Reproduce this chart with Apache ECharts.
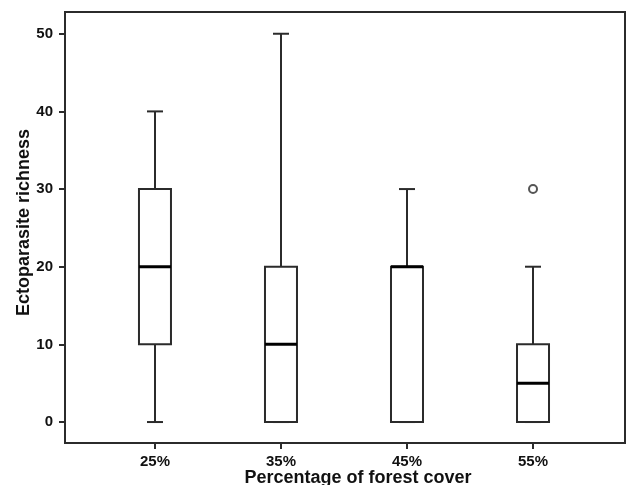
<!DOCTYPE html>
<html>
<head>
<meta charset="utf-8">
<script src="https://cdn.jsdelivr.net/npm/echarts@6/dist/echarts.min.js"></script>
<style>
  html, body { margin: 0; padding: 0; background: #fff; }
  #chart { width: 627px; height: 485px; }
</style>
</head>
<body>
<div id="chart"></div>
<script>
// forest cover groups (x positions 1..4)
const categories = ["25%", "35%", "45%", "55%"];
const positions = [1, 2, 3, 4];
// box stats: min, Q1, median, Q3, max
const mins = [0, 0, 0, 0];
const q1s = [10, 0, 0, 0];
const medians = [20, 10, 20, 5];
const q3s = [30, 20, 20, 10];
const maxs = [40, 50, 30, 20];
// outliers: [position, value]
const outliers = [[4, 30]];
const yTicks = [0, 10, 20, 30, 40, 50];

const font = "'Liberation Sans', Arial, sans-serif";
const ink = "#2b2b2b";

const boxData = positions.map((p, i) => [p, mins[i], q1s[i], medians[i], q3s[i], maxs[i]]);

function renderBox(params, api) {
  const x = api.value(0);
  const pMin = api.coord([x, api.value(1)]);
  const pQ1 = api.coord([x, api.value(2)]);
  const pMed = api.coord([x, api.value(3)]);
  const pQ3 = api.coord([x, api.value(4)]);
  const pMax = api.coord([x, api.value(5)]);
  const half = 16, cap = 8;
  const thin = { stroke: ink, lineWidth: 2 };
  return {
    type: "group",
    children: [
      { type: "line", shape: { x1: pQ1[0], y1: pQ1[1], x2: pMin[0], y2: pMin[1] }, style: thin },
      { type: "line", shape: { x1: pQ3[0], y1: pQ3[1], x2: pMax[0], y2: pMax[1] }, style: thin },
      { type: "line", shape: { x1: pMin[0] - cap, y1: pMin[1], x2: pMin[0] + cap, y2: pMin[1] }, style: thin },
      { type: "line", shape: { x1: pMax[0] - cap, y1: pMax[1], x2: pMax[0] + cap, y2: pMax[1] }, style: thin },
      { type: "rect", shape: { x: pQ3[0] - half, y: pQ3[1], width: half * 2, height: pQ1[1] - pQ3[1] },
        style: { fill: "#fff", stroke: ink, lineWidth: 2 } },
      { type: "line", shape: { x1: pMed[0] - half, y1: pMed[1], x2: pMed[0] + half, y2: pMed[1] },
        style: { stroke: "#000", lineWidth: 3 } }
    ]
  };
}

const chart = echarts.init(document.getElementById("chart"), null, { renderer: "canvas" });

chart.setOption({
  animation: false,
  backgroundColor: "#fff",
  grid: {
    left: 65, right: 2, top: 12, bottom: 42,
    outerBoundsMode: "none", containLabel: false,
    show: true, borderColor: ink, borderWidth: 2
  },
  xAxis: {
    type: "value",
    min: 0.286,
    max: 4.73,
    name: "Percentage of forest cover",
    nameLocation: "middle",
    nameGap: 26,
    nameMoveOverlap: false,
    nameTextStyle: { fontFamily: font, fontWeight: "bold", fontSize: 18, color: "#111", padding: [0, 0, 0, 26], verticalAlign: "top" },
    axisLine: { onZero: false, lineStyle: { color: ink, width: 2 } },
    axisTick: { show: true, length: 6, customValues: positions, lineStyle: { color: ink, width: 2 } },
    axisLabel: {
      customValues: positions,
      margin: 11,
      fontFamily: font, fontWeight: "bold", fontSize: 15, color: "#111",
      formatter: v => categories[positions.indexOf(v)] || ""
    },
    splitLine: { show: false }
  },
  yAxis: {
    type: "value",
    min: -2.7,
    max: 52.8,
    name: "Ectoparasite richness",
    nameLocation: "middle",
    nameGap: 32,
    nameMoveOverlap: false,
    nameTextStyle: { fontFamily: font, fontWeight: "bold", fontSize: 18, color: "#111", padding: [0, 0, 0, 10] },
    axisLine: { show: true, onZero: false, lineStyle: { color: ink, width: 2 } },
    axisTick: { show: true, length: 6, customValues: yTicks, lineStyle: { color: ink, width: 2 } },
    axisLabel: {
      customValues: yTicks,
      margin: 12,
      fontFamily: font, fontWeight: "bold", fontSize: 15, color: "#111"
    },
    splitLine: { show: false }
  },
  series: [
    {
      type: "custom",
      renderItem: renderBox,
      encode: { x: 0, y: [1, 2, 3, 4, 5] },
      data: boxData
    },
    {
      type: "scatter",
      symbol: "circle",
      symbolSize: 8,
      itemStyle: { color: "#fff", borderColor: ink, borderWidth: 2 },
      data: outliers
    }
  ]
});
</script>
</body>
</html>
